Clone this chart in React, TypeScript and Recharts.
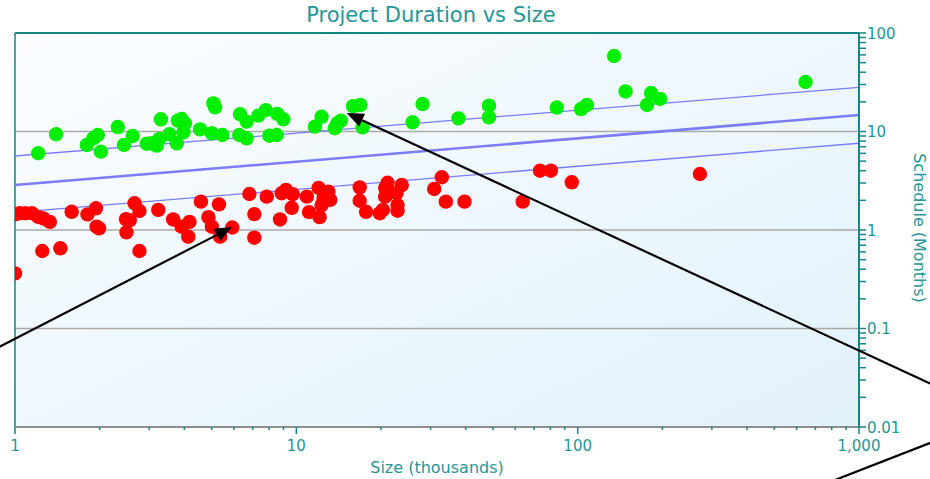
import {
  ScatterChart,
  Scatter,
  XAxis,
  YAxis,
  CartesianGrid,
  ReferenceLine,
  Label,
} from "recharts";

const greenX = [
  1.21, 1.4, 1.8, 1.9, 1.97, 2.02, 2.32, 2.44, 2.62, 2.94, 3.06, 3.19, 3.26, 3.3, 3.54,
  3.76, 3.79, 3.91, 4.02, 3.97, 4.55, 5.07, 5.14, 5.01, 5.46, 6.31, 6.66, 6.27, 6.66, 7.33,
  7.79, 8.56, 8.99, 8.02, 8.52, 11.65, 12.3, 13.7, 14.0, 14.4, 15.9, 16.9, 17.2, 25.9, 28.1,
  37.7, 48.4, 48.4, 84.3, 102.8, 107.8, 134.7, 148, 176.5, 182.4, 196.3, 645.7,
];
const greenY = [
  6.01, 9.37, 7.3, 8.53, 9.21, 6.24, 11.1, 7.3, 9.0, 7.52, 7.59, 7.18, 8.4, 13.3, 9.37,
  7.59, 12.9, 13.4, 12.1, 9.82, 10.5, 19.3, 17.6, 9.59, 9.21, 15.0, 12.6, 9.21, 8.53, 14.5,
  16.5, 15.1, 13.3, 9.06, 9.21, 11.2, 14.1, 10.8, 12.1, 12.9, 18.1, 18.6, 11.0, 12.4, 19.0,
  13.6, 18.3, 13.9, 17.5, 16.9, 18.6, 58.4, 25.5, 18.6, 24.6, 21.4, 31.8,
];

const redX = [
  1.0, 1.04, 1.09, 1.15, 1.21, 1.26, 1.33, 1.25, 1.45, 1.59,
  1.81, 1.94, 1.95, 1.99, 2.48, 2.56, 2.49, 2.66, 2.77, 2.77,
  3.23, 3.65, 3.91, 4.17, 4.13, 4.58, 4.87, 5.01, 5.31, 5.36,
  5.92, 6.81, 7.09, 7.09, 7.85, 8.75, 8.87, 9.19, 9.63, 9.71,
  10.9, 11.1, 12.0, 13.0, 12.5, 13.2, 12.1, 12.3, 16.8, 16.8,
  17.7, 19.8, 20.7, 21.1, 20.7, 20.3, 22.9, 22.9, 23.7, 22.7,
  30.9, 32.9, 34.0, 39.6, 63.8, 73.5, 80.3, 95.3, 272, 1.0,
];
const redY = [
  1.44, 1.48, 1.48, 1.48, 1.36, 1.31, 1.21, 0.612, 0.652, 1.53,
  1.44, 1.66, 1.08, 1.04, 1.29, 1.26, 0.948, 1.87, 1.56, 0.612,
  1.6, 1.28, 1.08, 1.21, 0.855, 1.94, 1.35, 1.08, 1.82, 0.855,
  1.06, 2.32, 1.45, 0.835, 2.18, 1.28, 2.36, 2.55, 1.68, 2.31,
  2.18, 1.52, 2.68, 2.45, 2.1, 2.02, 1.35, 1.79, 2.71, 1.98,
  1.53, 1.48, 2.68, 3.02, 2.18, 1.6, 1.79, 1.57, 2.86, 2.36,
  2.61, 3.43, 1.94, 1.94, 1.94, 4.0, 4.0, 3.05, 3.7, 0.363,
];

// tick marks (decade labels + unlabeled minor ticks)
const xMajor = [1, 10, 100, 1000];
const xMajorLabels = ["1", "10", "100", "1,000"];
const yMajor = [0.01, 0.1, 1, 10, 100];
const yMajorLabels = ["0.01", "0.1", "1", "10", "100"];
const minorSteps = [2, 3, 4, 5, 6, 7, 8, 9];

// trend lines, value at x=1 and at x=1000
const trendX = [1, 1000];
const trendMid = [2.86, 14.7];
const trendHigh = [5.64, 28.1];
const trendLow = [1.51, 7.6];

// annotation arrows (from, to) in data units
const arrowA = [{ x: 0.7, y: 0.0465 }, { x: 5.91, y: 1.07 }];
const arrowB = [{ x: 1789, y: 0.0276 }, { x: 15.1, y: 15.4 }];
const strayLine = [{ x: 789, y: 0.00277 }, { x: 1942, y: 0.00755 }];

const decadeTicks = (majors: number[]) => {
  const out: number[] = [];
  majors.forEach((m, i) => {
    out.push(m);
    if (i < majors.length - 1) minorSteps.forEach((s) => out.push(m * s));
  });
  return out;
};
const xTicks = decadeTicks(xMajor);
const yTicks = decadeTicks(yMajor);

const greenData = greenX.map((x, i) => ({ x, y: greenY[i] }));
const redData = redX.map((x, i) => ({ x, y: redY[i] }));

const TEAL = "#178585";
const TEXT = "#259696";
const FONT = "'DejaVu Sans', Verdana, sans-serif";
const TREND = "#7c7cf8";

const XTick = (props: any) => {
  const { x, y, payload } = props;
  const idx = xMajor.indexOf(payload.value);
  const major = idx >= 0;
  return (
    <g>
      <line x1={x} x2={x} y1={y} y2={y + (major ? 7 : 3)} stroke={TEAL} strokeWidth={1.5} />
      {major && (
        <text x={x} y={y + 24} textAnchor="middle" fill={TEXT} fontSize={15} fontFamily={FONT}>
          {xMajorLabels[idx]}
        </text>
      )}
    </g>
  );
};

const YTick = (props: any) => {
  const { x, y, payload } = props;
  const idx = yMajor.indexOf(payload.value);
  return (
    <g>
      <line x1={x} x2={x + 7} y1={y} y2={y} stroke={TEAL} strokeWidth={1.5} />
      {idx >= 0 && (
        <text x={x + 8} y={y + 5.5} textAnchor="start" fill={TEXT} fontSize={15} fontFamily={FONT}>
          {yMajorLabels[idx]}
        </text>
      )}
    </g>
  );
};

const YLabel = (props: any) => {
  const vb = props.viewBox || { x: 859, y: 33, width: 71, height: 394 };
  const cx = vb.x + 55;
  const cy = vb.y + vb.height / 2 - 2;
  return (
    <text
      x={cx}
      y={cy}
      transform={`rotate(90 ${cx} ${cy})`}
      textAnchor="middle"
      fill={TEXT}
      fontSize={16}
      fontFamily={FONT}
    >
      Schedule (Months)
    </text>
  );
};

const XLabel = (props: any) => {
  const vb = props.viewBox || { x: 15, y: 427, width: 844, height: 52 };
  return (
    <text
      x={vb.x + vb.width / 2}
      y={vb.y + 46}
      textAnchor="middle"
      fill={TEXT}
      fontSize={16}
      fontFamily={FONT}
    >
      Size (thousands)
    </text>
  );
};

const Arrow = (props: any) => {
  const { x1, y1, x2, y2 } = props;
  const ang = Math.atan2(y2 - y1, x2 - x1);
  const len = 17;
  const half = 7;
  const bx = x2 - len * Math.cos(ang);
  const by = y2 - len * Math.sin(ang);
  const px = -Math.sin(ang) * half;
  const py = Math.cos(ang) * half;
  return (
    <g>
      <line x1={x1} y1={y1} x2={bx} y2={by} stroke="#000" strokeWidth={2.2} />
      <polygon points={`${x2},${y2} ${bx + px},${by + py} ${bx - px},${by - py}`} fill="#000" />
    </g>
  );
};

const Dot = (color: string) => (p: any) => <circle cx={p.cx} cy={p.cy} r={7.2} fill={color} />;

export default function App() {
  return (
    <div
      style={{
        position: "absolute",
        left: 0,
        top: 0,
        width: 930,
        height: 479,
        fontFamily: FONT,
        background: "#fff",
      }}
    >
      <div
        style={{
          position: "absolute",
          top: 3,
          left: 0,
          width: 862,
          textAlign: "center",
          fontSize: 21,
          lineHeight: "25px",
          color: TEXT,
        }}
      >
        Project Duration vs Size
      </div>
      <ScatterChart width={930} height={479} margin={{ top: 33, right: 0, bottom: 0, left: 15 }}>
        <defs>
          <linearGradient id="plotBg" x1="0" y1="0" x2="1" y2="1">
            <stop offset="0%" stopColor="#fbfdff" />
            <stop offset="100%" stopColor="#e2f2fb" />
          </linearGradient>
        </defs>
        <CartesianGrid horizontal={false} vertical={false} fill="url(#plotBg)" />
        <XAxis
          type="number"
          dataKey="x"
          scale="log"
          domain={[1, 1000]}
          allowDataOverflow
          ticks={xTicks}
          interval={0}
          tick={<XTick />}
          tickLine={false}
          tickSize={0}
          tickMargin={0}
          axisLine={{ stroke: "#8e8e8e", strokeWidth: 2 }}
          height={52}
        >
          <Label content={<XLabel />} />
        </XAxis>
        <YAxis
          type="number"
          dataKey="y"
          orientation="right"
          scale="log"
          domain={[0.01, 100]}
          allowDataOverflow
          ticks={yTicks}
          interval={0}
          tick={<YTick />}
          tickLine={false}
          tickSize={0}
          tickMargin={0}
          axisLine={{ stroke: TEAL, strokeWidth: 2 }}
          width={71}
        >
          <Label content={<YLabel />} />
        </YAxis>
        <ReferenceLine y={0.1} stroke="#aaaaaa" strokeWidth={1.5} />
        <ReferenceLine y={1} stroke="#aaaaaa" strokeWidth={1.5} />
        <ReferenceLine y={10} stroke="#aaaaaa" strokeWidth={1.5} />
        <ReferenceLine y={100} stroke={TEAL} strokeWidth={2} />
        <ReferenceLine x={1} stroke={TEAL} strokeWidth={1.5} />
        <ReferenceLine
          segment={[{ x: trendX[0], y: trendHigh[0] }, { x: trendX[1], y: trendHigh[1] }]}
          stroke={TREND}
          strokeWidth={1.3}
          ifOverflow="visible"
        />
        <ReferenceLine
          segment={[{ x: trendX[0], y: trendMid[0] }, { x: trendX[1], y: trendMid[1] }]}
          stroke={TREND}
          strokeWidth={2.6}
          ifOverflow="visible"
        />
        <ReferenceLine
          segment={[{ x: trendX[0], y: trendLow[0] }, { x: trendX[1], y: trendLow[1] }]}
          stroke={TREND}
          strokeWidth={1.3}
          ifOverflow="visible"
        />
        <Scatter data={greenData} fill="#00ee00" shape={Dot("#00ee00")} isAnimationActive={false} />
        <Scatter data={redData} fill="#ff0000" shape={Dot("#ff0000")} isAnimationActive={false} />
        <ReferenceLine segment={arrowA} ifOverflow="visible" shape={Arrow} zIndex={2000} />
        <ReferenceLine segment={arrowB} ifOverflow="visible" shape={Arrow} zIndex={2000} />
        <ReferenceLine
          segment={strayLine}
          ifOverflow="visible"
          stroke="#000"
          strokeWidth={2.2}
          zIndex={2000}
        />
      </ScatterChart>
    </div>
  );
}
